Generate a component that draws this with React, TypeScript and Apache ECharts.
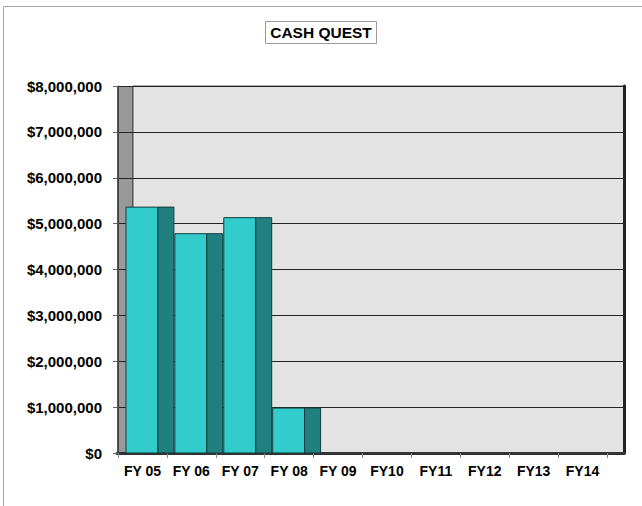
import React, { useEffect, useRef } from "react";
import * as echarts from "echarts";

const categories = ["FY 05", "FY 06", "FY 07", "FY 08", "FY 09", "FY10", "FY11", "FY12", "FY13", "FY14"];
const cashValues = [5360000, 4780000, 5130000, 980000, 0, 0, 0, 0, 0, 0];
const yMin = 0;
const yMax = 8000000;
const yStep = 1000000;
const titleText = "CASH QUEST";

const FONT = "'Liberation Sans', Arial, sans-serif";

function fmtMoney(v: number): string {
  return "$" + Math.round(v).toString().replace(/\B(?=(\d{3})+(?!\d))/g, ",");
}

export default function App() {
  const ref = useRef<HTMLDivElement | null>(null);
  useEffect(() => {
    document.body.style.margin = "0";
    if (!ref.current) return;
    const chart = echarts.init(ref.current, undefined, { renderer: "svg" });
    const option: any = {
      animation: false,
      backgroundColor: "#ffffff",
      title: {
        text: titleText,
        left: "center",
        top: 21,
        padding: [3, 5, 4, 5],
        borderColor: "#9a9a9a",
        borderWidth: 1,
        textStyle: { fontFamily: FONT, fontWeight: "bold", fontSize: 15.5, color: "#000" },
      },
      graphic: [
        {
          type: "rect",
          z: -10,
          shape: { x: 3.5, y: 6.5, width: 700, height: 600 },
          style: { fill: "none", stroke: "#a8a8a8", lineWidth: 1 },
        },
        {
          type: "rect",
          z: -10,
          shape: { x: 133, y: 86, width: 491, height: 367 },
          style: { fill: "#e3e3e3", stroke: "#555", lineWidth: 1 },
        },
        {
          type: "rect",
          z: -9,
          shape: { x: 117.5, y: 86.5, width: 15, height: 366 },
          style: { fill: "#999999", stroke: "#555", lineWidth: 1 },
        },
      ],
      grid: [
        { left: 117, right: 18, top: 86, bottom: 53, show: false },
        { left: 118, right: 35, top: 86, bottom: 53, show: false },
      ],
      xAxis: [
        {
          gridIndex: 0,
          type: "category",
          data: categories,
          axisLine: { show: true, lineStyle: { color: "#333", width: 3 } },
          axisTick: { show: false },
          axisLabel: { show: false },
          splitLine: { show: false },
        },
        {
          gridIndex: 1,
          type: "category",
          data: categories,
          axisLine: { show: false },
          axisTick: { show: true, length: 5, lineStyle: { color: "#888" }, interval: 0 },
          axisLabel: {
            interval: 0,
            margin: 11,
            color: "#000",
            fontFamily: FONT,
            fontWeight: "bold",
            fontSize: 14,
          },
          splitLine: { show: false },
        },
      ],
      yAxis: [
        {
          gridIndex: 0,
          type: "value",
          position: "right",
          min: yMin,
          max: yMax,
          interval: yStep,
          axisLine: { show: true, lineStyle: { color: "#222", width: 3 } },
          axisTick: { show: false },
          axisLabel: { show: false },
          splitLine: { show: true, lineStyle: { color: "#222", width: 1 } },
        },
        {
          gridIndex: 1,
          type: "value",
          min: yMin,
          max: yMax,
          interval: yStep,
          axisLine: { show: true, lineStyle: { color: "#444", width: 1 } },
          axisTick: { show: true, length: 5, lineStyle: { color: "#666" } },
          axisLabel: {
            margin: 16,
            color: "#000",
            fontFamily: FONT,
            fontWeight: "bold",
            fontSize: 15,
            formatter: (v: number) => fmtMoney(v),
          },
          splitLine: { show: false },
        },
      ],
      series: [
        {
          type: "custom",
          name: "Cash",
          xAxisIndex: 1,
          yAxisIndex: 1,
          encode: { x: 0, y: 1 },
          data: cashValues.map((v, i) => [i, v]),
          renderItem: (params: any, api: any) => {
            const idx = api.value(0);
            const v = api.value(1);
            const top = api.coord([idx, v]);
            const base = api.coord([idx, 0]);
            const bw = api.size([1, 0])[0];
            const h = base[1] - top[1];
            if (!(h > 0.5)) return null;
            const cx = top[0];
            const fx = cx - bw * 0.337;
            const fw = bw * 0.653;
            const sw = bw * 0.327;
            return {
              type: "group",
              children: [
                {
                  type: "rect",
                  shape: { x: fx, y: top[1], width: fw, height: h },
                  style: { fill: "#33cccc", stroke: "#143c3c", lineWidth: 1 },
                },
                {
                  type: "rect",
                  shape: { x: fx + fw, y: top[1], width: sw, height: h },
                  style: { fill: "#208080", stroke: "#143c3c", lineWidth: 1 },
                },
              ],
            };
          },
        },
      ],
    };
    chart.setOption(option);
    return () => chart.dispose();
  }, []);
  return <div ref={ref} style={{ width: 642, height: 506 }} />;
}
